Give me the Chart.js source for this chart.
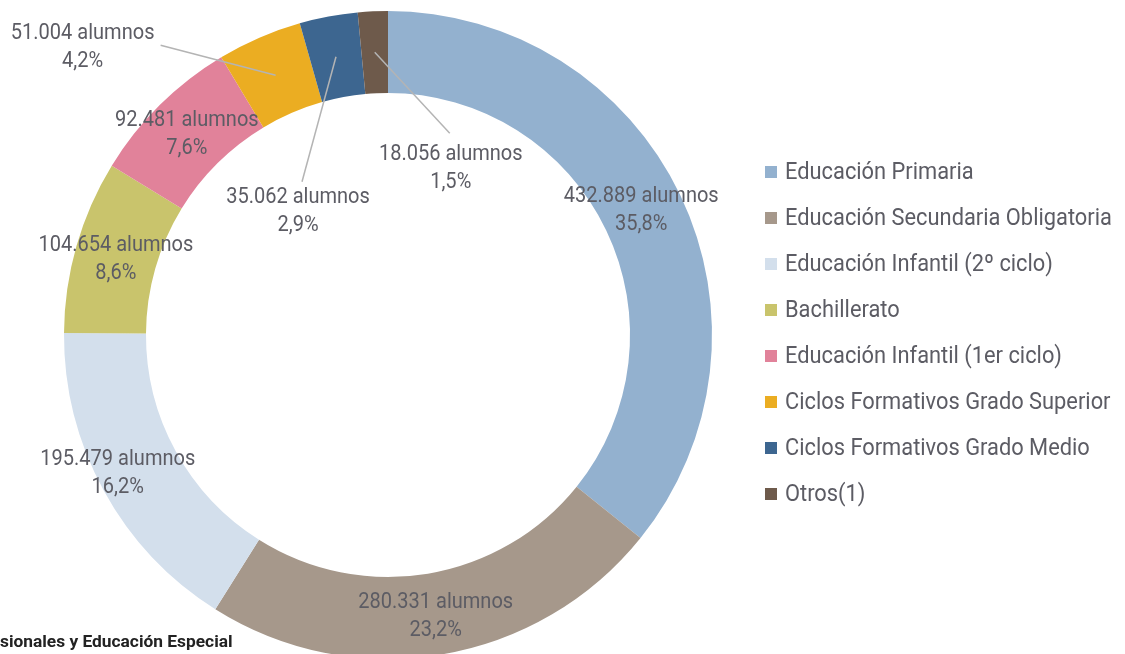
<!DOCTYPE html>
<html>
<head>
<meta charset="utf-8">
<script src="https://cdn.jsdelivr.net/npm/chart.js@4.4.1/dist/chart.umd.min.js"></script>
<style>
html, body { margin: 0; padding: 0; background: #fff; overflow: hidden; }
#wrap { position: relative; width: 1125px; height: 654px; overflow: hidden; }
#box { position: absolute; left: 0; top: 0; width: 1125px; height: 670px; }
#nota { position: absolute; left: 0; top: 633px; font: bold 17px/17px Roboto, sans-serif; color: #222; white-space: nowrap;
        transform: scaleX(1.02); transform-origin: 0 0; }
</style>
</head>
<body>
<div id="wrap">
  <div id="box"><canvas id="grafico" width="1125" height="670"></canvas></div>
  <div id="nota">sionales y Educación Especial</div>
</div>
<script>
var etiquetas = ['Educación Primaria', 'Educación Secundaria Obligatoria', 'Educación Infantil (2º ciclo)', 'Bachillerato',
    'Educación Infantil (1er ciclo)', 'Ciclos Formativos Grado Superior', 'Ciclos Formativos Grado Medio', 'Otros(1)'];
var alumnos = [432889, 280331, 195479, 104654, 92481, 51004, 35062, 18056];
var colores = ['#93b1cf', '#a6988b', '#d3dfec', '#c9c46c', '#e1829a', '#ebad22', '#3d6690', '#6e5a4b'];

// desplazamiento de cada etiqueta respecto al centro del sector [dx, dy, finLineaX, finLineaY]
var desplazamientos = [[-2, -2], [1, 2], [-22, 3], [0, 2], [-2, 1], [-193, -28, -115, -30], [-38, 155, -34, 125], [76, 116, 75, 81]];

var fuente = 'Roboto, "Noto Sans", sans-serif';
var estrechar = 0.91; // la fuente original es condensada

function formatoMiles(n) {
    return String(n).replace(/\B(?=(\d{3})+(?!\d))/g, '.');
}

function textoEstrecho(ctx, txt, x, y) {
    ctx.save();
    ctx.translate(x, y);
    ctx.scale(estrechar, 1);
    ctx.fillText(txt, 0, 0);
    ctx.restore();
}

var total = alumnos.reduce(function (a, b) { return a + b; }, 0);

var pluginEtiquetas = {
    id: 'etiquetas',
    afterDatasetsDraw: function (chart) {
        var ctx = chart.ctx;
        var meta = chart.getDatasetMeta(0);
        ctx.save();
        meta.data.forEach(function (arc, i) {
            var p = arc.tooltipPosition();
            var d = desplazamientos[i];
            var x = p.x + d[0], y = p.y + d[1];
            if (d.length > 2) {
                ctx.strokeStyle = '#b4b4b4';
                ctx.lineWidth = 1.5;
                ctx.beginPath();
                ctx.moveTo(p.x, p.y);
                ctx.lineTo(p.x + d[2], p.y + d[3]);
                ctx.stroke();
            }
            ctx.font = '22px ' + fuente;
            ctx.fillStyle = '#5c5c64';
            ctx.textAlign = 'center';
            ctx.textBaseline = 'middle';
            var pct = (alumnos[i] / total * 100).toFixed(1).replace('.', ',') + '%';
            textoEstrecho(ctx, formatoMiles(alumnos[i]) + ' alumnos', x, y - 14);
            textoEstrecho(ctx, pct, x, y + 14);
        });
        ctx.restore();
    }
};

var pluginLeyenda = {
    id: 'leyenda',
    afterDraw: function (chart) {
        var ctx = chart.ctx;
        var ds = chart.data.datasets[0];
        ctx.save();
        ctx.font = '24px ' + fuente;
        ctx.textAlign = 'left';
        ctx.textBaseline = 'middle';
        chart.data.labels.forEach(function (lab, i) {
            var y = 172 + i * 46;
            ctx.fillStyle = ds.backgroundColor[i];
            ctx.fillRect(765, y - 6, 12, 12);
            ctx.fillStyle = '#5c5c64';
            textoEstrecho(ctx, lab, 785, y + 1);
        });
        ctx.restore();
    }
};

new Chart(document.getElementById('grafico'), {
    type: 'doughnut',
    data: {
        labels: etiquetas,
        datasets: [{
            data: alumnos,
            backgroundColor: colores,
            borderWidth: 0
        }]
    },
    options: {
        responsive: false,
        animation: false,
        cutout: '74.7%',
        layout: {
            padding: { left: 64, top: 11, right: 413, bottom: 11 }
        },
        plugins: {
            legend: { display: false },
            tooltip: { enabled: false }
        }
    },
    plugins: [pluginEtiquetas, pluginLeyenda]
});
</script>
</body>
</html>
